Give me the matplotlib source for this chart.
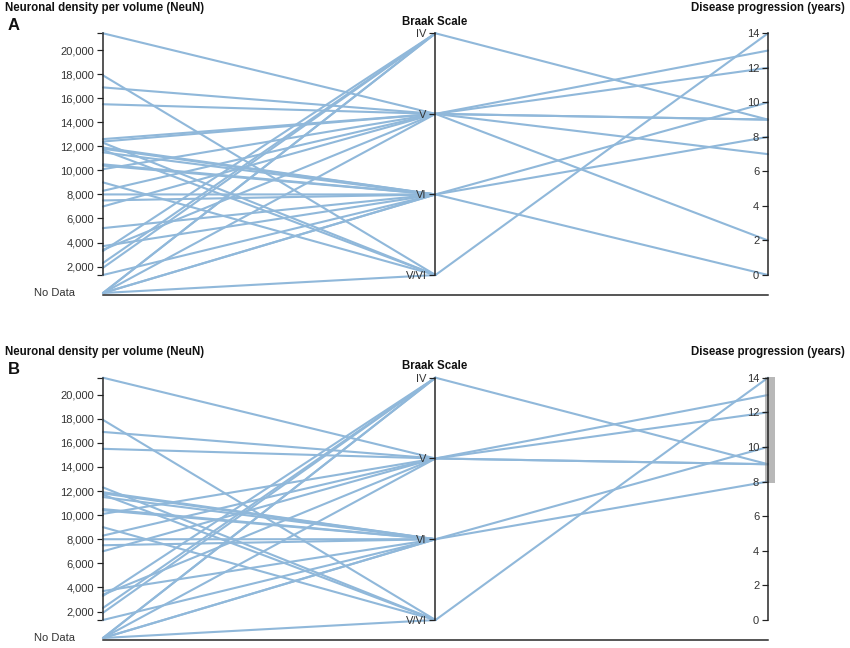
import matplotlib
matplotlib.use("Agg")
import matplotlib.pyplot as plt
from matplotlib.patches import Rectangle

plt.rcParams['font.family'] = ['Liberation Sans', 'DejaVu Sans']

# ---------------- data ----------------
neun = [21400, 17900, 16900, 15500, 12600, 12400, 12300, 11900, 11800, 11700,
        11500, 10500, 10400, 10100, 9000, 8300, 8000, 7500, 7000, 5200,
        3700, 3400, 3300, 2300, 1900, 1300, None, None, None, None, None, None]
braak = ['V', 'V/VI', 'V', 'V', 'V', 'V', 'V/VI', 'VI', 'VI', 'V/VI',
         'VI', 'VI', 'VI', 'V', 'V/VI', 'V', 'VI', 'VI', 'V', 'VI',
         'VI', 'V', 'IV', 'IV', 'IV', 'VI', 'IV', 'IV', 'V', 'VI', 'VI', 'V/VI']
progression = [9, 14, 13, 12, 7, 2, None, 10, None, None,
               None, None, None, 9, None, None, 8, None, None, 0,
               None, None, None, 9, None, None, None, None, None, None, None, None]

braak_categories = ['V/VI', 'VI', 'V', 'IV']          # bottom -> top
neun_domain = (1300, 21400)
neun_ticks = list(range(2000, 20001, 2000))
prog_domain = (0, 14)
prog_ticks = list(range(0, 15, 2))
brush_range = (7.9, 14.05)                             # selection shown in panel B

titles = ["Neuronal density per volume (NeuN)", "Braak Scale", "Disease progression (years)"]
panel_labels = ["A", "B"]

# ---------------- style ----------------
W, H = 850, 648
LINE_COLOR = '#90b8da'
AXIS_COLOR = '#222222'
TEXT_COLOR = '#333333'
PX = 72.0 / 100.0   # points per pixel at dpi 100

fig = plt.figure(figsize=(W / 100, H / 100), dpi=100)

# panel geometry in pixels: (top of axes, bottom of axes)
panels = [(33.3, 275.0), (377.7, 620.0)]
AX_LEFT, AX_RIGHT = 103.0, 768.0
NO_DATA_GAP = 18.0   # px below the axis bottom


def style_axis(a, spine_pos):
    for s in a.spines.values():
        s.set_visible(False)
    a.spines['left'].set_visible(True)
    a.spines['left'].set_position(('axes', spine_pos))
    a.spines['left'].set_color(AXIS_COLOR)
    a.spines['left'].set_linewidth(1.5 * PX)
    a.yaxis.tick_left()
    a.set_xticks([])
    a.tick_params(axis='y', which='both', direction='out', length=6 * PX,
                  width=1.2 * PX, color=AXIS_COLOR, labelsize=8,
                  labelcolor=TEXT_COLOR, pad=2)


for pi, (top, bottom) in enumerate(panels):
    brushed = (pi == 1)
    ax = fig.add_axes([AX_LEFT / W, (H - bottom) / H,
                       (AX_RIGHT - AX_LEFT) / W, (bottom - top) / H])
    ax.set_xlim(0, 1)
    ax.set_ylim(*neun_domain)
    style_axis(ax, 0.0)
    ax.set_yticks(neun_ticks)
    ax.set_yticklabels([f"{v:,}" for v in neun_ticks])
    ax.set_yticks(list(neun_domain), minor=True)
    ax.patch.set_visible(False)

    ax_b = ax.twinx()
    ax_b.set_ylim(0, len(braak_categories) - 1)
    style_axis(ax_b, 0.5)
    ax_b.set_yticks(range(len(braak_categories)))
    ax_b.set_yticklabels(braak_categories)

    ax_p = ax.twinx()
    ax_p.set_ylim(*prog_domain)
    style_axis(ax_p, 1.0)
    ax_p.set_yticks(prog_ticks)
    ax_p.set_yticklabels([str(v) for v in prog_ticks])

    inv = ax.transAxes.inverted()

    def frac(a, v):
        return inv.transform(a.transData.transform((0, v)))[1]

    nd_frac = -NO_DATA_GAP / (bottom - top)

    # baseline at "No Data" level
    ax.plot([0, 1], [nd_frac - 2.0 / (bottom - top)] * 2, transform=ax.transAxes,
            color=AXIS_COLOR, lw=1.5 * PX, clip_on=False, zorder=1)

    for n, b, p in zip(neun, braak, progression):
        if brushed and p is not None and not (brush_range[0] <= p <= brush_range[1]):
            continue
        y0 = nd_frac if n is None else frac(ax, n)
        y1 = frac(ax_b, braak_categories.index(b))
        xs, ys = [0.0, 0.5], [y0, y1]
        if p is not None:
            xs.append(1.0)
            ys.append(frac(ax_p, p))
        ax.plot(xs, ys, transform=ax.transAxes, color=LINE_COLOR, lw=2.1 * PX,
                clip_on=False, zorder=2, solid_capstyle='round')

    ax.text(-28.0 / (AX_RIGHT - AX_LEFT), nd_frac, "No Data", transform=ax.transAxes,
            ha='right', va='center', fontsize=8, color=TEXT_COLOR)

    if brushed:
        y_lo, y_hi = frac(ax_p, brush_range[0]), frac(ax_p, brush_range[1])
        wpx = AX_RIGHT - AX_LEFT
        ax.add_patch(Rectangle((1 - 3.5 / wpx, y_lo), 10.5 / wpx, y_hi - y_lo,
                               transform=ax.transAxes, facecolor='#7f7f7f',
                               edgecolor='none', alpha=0.55,
                               clip_on=False, zorder=5))

    # titles
    fig.text(5 / W, 1 - (top - 25.8) / H, titles[0], ha='left', va='center',
             fontsize=8.3, fontweight='bold', color='#111111')
    fig.text(435 / W, 1 - (top - 11.3) / H, titles[1], ha='center', va='center',
             fontsize=8.3, fontweight='bold', color='#111111')
    fig.text(845 / W, 1 - (top - 25.8) / H, titles[2], ha='right', va='center',
             fontsize=8.3, fontweight='bold', color='#111111')
    fig.text(8 / W, 1 - (top - 8.0) / H, panel_labels[pi], ha='left', va='center',
             fontsize=12, fontweight='bold', color='#111111')

fig.savefig("out.png", dpi=100, facecolor='white')
